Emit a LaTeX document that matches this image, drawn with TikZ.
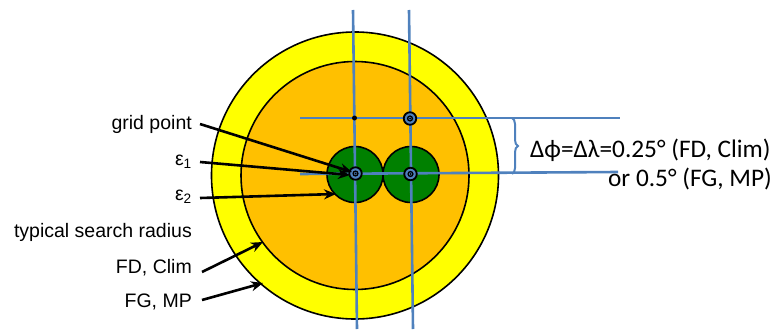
\documentclass[tikz,border=0pt]{standalone}
\usepackage{fontspec}
\setmainfont{Liberation Sans}
\newfontfamily\calfont{Carlito}
\usetikzlibrary{arrows.meta,decorations.pathreplacing}
\definecolor{cyell}{HTML}{FFFF00}
\definecolor{corange}{HTML}{FFC000}
\definecolor{cgreen}{HTML}{008000}
\definecolor{cblue}{HTML}{4F81BD}
\begin{document}
\begin{tikzpicture}[x=1pt,y=-1pt,
  ring/.style={draw=black,line width=1.6pt},
  gline/.style={draw=cblue,line width=2.6pt},
  arr/.style={draw=black,line width=2.6pt,-{Stealth[length=12pt,width=10pt]}},
  lbl/.style={inner sep=0pt,font=\fontsize{19.5}{22}\selectfont},
  rt/.style={inner sep=0pt,font=\calfont\fontsize{25.3}{28}\selectfont},
  gpt/.style={circle,draw=black,line width=1.8pt,fill=cblue,minimum size=12.5pt,inner sep=0pt}]
\useasboundingbox (0,0) rectangle (778,329);
% circles
\fill[cyell] (355,175.5) circle[radius=143.5pt];
\draw[ring] (355,175.5) circle[radius=143.5pt];
\fill[corange] (355,175.5) circle[radius=114pt];
\draw[ring] (355,175.5) circle[radius=114pt];
\draw[ring,fill=cgreen] (355,174.5) circle[radius=28pt];
\draw[ring,fill=cgreen] (411,174.5) circle[radius=28pt];
% grid lines
\draw[gline] (353,10) -- (357,329);
\draw[gline] (409,10) -- (413,329);
\draw[gline] (300,118) -- (620,118);
\draw[gline] (300,174) -- (618,172);
% brace
\draw[gline,line width=2pt,decorate,decoration={brace,amplitude=6pt}] (512,118) -- (512,174);
% grid points
\fill[black] (354.5,118) circle[radius=2.5pt];
\node[gpt] (p1) at (410,118.5) {};
\node[gpt] (p2) at (410.5,174) {};
\node[gpt] (p3) at (355.5,173.5) {};
\foreach \p in {p1,p2,p3} {
  \draw[black,line width=1.3pt] (\p) circle[radius=2.4pt];
  \fill[black] (\p) circle[radius=1pt];
}
% labels
\node[lbl,anchor=base east] (gp) at (192,129) {grid point};
\node[lbl,anchor=base east] (e1) at (192,165) {ε\textsubscript{1}};
\node[lbl,anchor=base east] (e2) at (192,200) {ε\textsubscript{2}};
\node[lbl,anchor=base east] (tsr) at (192,237) {typical search radius};
\node[lbl,anchor=base east] (fd) at (192,273) {FD, Clim};
\node[lbl,anchor=base east] (fg) at (192,307) {FG, MP};
% arrow tips
\coordinate (tgp) at (352,172);
\coordinate (te1) at (350,175);
\coordinate (te2) at (336,194);
\coordinate (tfd) at (263,242);
\coordinate (tfg) at (263,283);
\draw[arr] ([shift={(8,-5)}]gp.base east) -- (tgp);
\draw[arr] ([shift={(8,-3)}]e1.base east) -- (te1);
\draw[arr] ([shift={(8,-2)}]e2.base east) -- (te2);
\draw[arr] ([shift={(10,-1)}]fd.base east) -- (tfd);
\draw[arr] ([shift={(10,-7)}]fg.base east) -- (tfg);
% right text
\node[rt,anchor=base west] (dl) at (530,157) {Δϕ=Δλ=0.25° (FD, Clim)};
\node[rt,anchor=base east] (orl) at (772,186) {or 0.5° (FG, MP)};
\end{tikzpicture}
\end{document}
